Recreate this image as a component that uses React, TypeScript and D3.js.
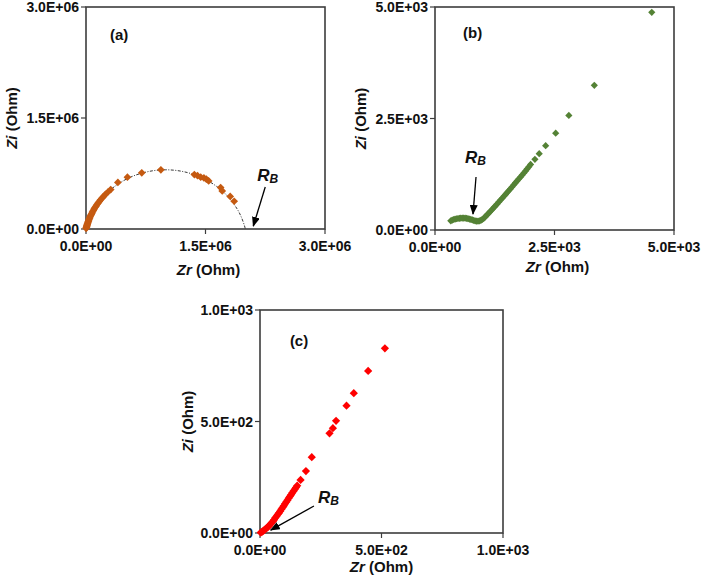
import React from "react";
import * as d3 from "d3";

// ---------- DATA ----------
// Panel (a): Nyquist plot, Ohm
const zrA = [
  0.002e6, 0.004e6, 0.006e6, 0.008e6, 0.010e6, 0.013e6, 0.016e6, 0.019e6, 0.022e6, 0.026e6,
  0.030e6, 0.035e6, 0.040e6, 0.046e6, 0.052e6, 0.059e6, 0.066e6, 0.074e6, 0.083e6, 0.092e6,
  0.102e6, 0.113e6, 0.125e6, 0.138e6, 0.152e6, 0.167e6, 0.183e6, 0.200e6, 0.220e6, 0.245e6,
  0.275e6, 0.310e6, 0.40e6, 0.52e6, 0.70e6, 0.94e6, 1.36e6, 1.40e6, 1.44e6, 1.48e6,
  1.51e6, 1.54e6, 1.69e6, 1.71e6, 1.81e6, 1.86e6,
];
const ziA = [
  0.009e6, 0.017e6, 0.025e6, 0.033e6, 0.041e6, 0.051e6, 0.062e6, 0.072e6, 0.082e6, 0.094e6,
  0.106e6, 0.120e6, 0.134e6, 0.150e6, 0.165e6, 0.181e6, 0.197e6, 0.214e6, 0.233e6, 0.251e6,
  0.269e6, 0.289e6, 0.309e6, 0.330e6, 0.351e6, 0.372e6, 0.394e6, 0.416e6, 0.440e6, 0.468e6,
  0.500e6, 0.533e6, 0.63e6, 0.70e6, 0.76e6, 0.80e6, 0.735e6, 0.72e6, 0.70e6, 0.69e6,
  0.675e6, 0.65e6, 0.56e6, 0.515e6, 0.44e6, 0.375e6,
];
// dotted semicircle fit
const fitZrA = [0, 0.01e6, 0.05e6, 0.1e6, 0.2e6, 0.3e6, 0.45e6, 0.6e6, 0.8e6, 1.0e6, 1.2e6, 1.4e6, 1.55e6, 1.7e6, 1.8e6, 1.9e6, 1.95e6, 1.99e6, 2.0e6];
const fitZiA = [0, 0.041e6, 0.16e6, 0.266e6, 0.416e6, 0.524e6, 0.64e6, 0.719e6, 0.78e6, 0.80e6, 0.78e6, 0.719e6, 0.64e6, 0.524e6, 0.416e6, 0.266e6, 0.16e6, 0.041e6, 0];

// Panel (b)
const zrB = [
  330, 360, 390, 420, 450, 480, 510, 540, 570, 600, 630, 660, 690, 720, 750, 780, 810, 840, 870, 900,
  930, 960, 990, 1020, 1050, 1080, 1110, 1140, 1170, 1200, 1235, 1270, 1300, 1335, 1370, 1405, 1440,
  1475, 1510, 1545, 1580, 1615, 1650, 1685, 1720, 1755, 1790, 1825, 1860, 1895, 1930, 1965, 2000,
  2090, 2180, 2315, 2525, 2800, 3333, 4535,
];
const ziB = [
  205, 222, 235, 245, 252, 258, 262, 266, 268, 268, 266, 262, 255, 246, 236, 225, 214, 204, 198, 198,
  205, 218, 236, 262, 295, 328, 362, 397, 432, 468, 508, 548, 585, 628, 670, 712, 755,
  798, 840, 883, 925, 970, 1015, 1060, 1103, 1147, 1190, 1235, 1280, 1325, 1372, 1418, 1470,
  1585, 1712, 1890, 2170, 2568, 3243, 4880,
];

// Panel (c)
const zrC = [
  3, 8, 13, 18, 23, 28, 33, 38, 43, 48, 53, 58, 63, 68, 73, 78, 83, 88, 93, 98, 103, 108, 113, 118,
  123, 128, 133, 138, 143, 148, 153, 167, 189, 213, 286, 300, 313, 356, 386, 445, 514,
];
const ziC = [
  2, 5, 9, 13, 18, 23, 28, 33, 39, 46, 52, 59, 68, 75, 83, 90, 98, 106, 114, 122, 131, 139, 147, 156,
  164, 172, 180, 188, 196, 204, 212, 238, 278, 340, 447, 470, 503, 571, 627, 727, 828,
];

const ticksA = [0, 1.5e6, 3.0e6];
const tickLabelsA = ["0.0E+00", "1.5E+06", "3.0E+06"];
const ticksB = [0, 2.5e3, 5.0e3];
const tickLabelsB = ["0.0E+00", "2.5E+03", "5.0E+03"];
const ticksC = [0, 5.0e2, 1.0e3];
const tickLabelsC = ["0.0E+00", "5.0E+02", "1.0E+03"];

// annotations in data units: [fromX, fromY, toX, toY], label position
const arrowA = [2.25e6, 0.567e6, 2.1e6, 0.04e6];
const rbA = [2.15e6, 0.65e6];
const arrowB = [858, 1188, 795, 359];
const rbB = [628, 1502];
const arrowC = [222, 121, 44, 13];
const rbC = [239, 135];
const panelLabelPos = { a: [0.3e6, 2.56e6], b: [586, 4305], c: [123, 839] };

const FONT = "Arial, 'Liberation Sans', Helvetica, sans-serif";
const AXIS = "#3d3d3d";

type PanelProps = {
  box: { x0: number; x1: number; y0: number; y1: number };
  max: number;
  ticks: number[];
  tickLabels: string[];
  zr: number[];
  zi: number[];
  color: string;
  markerArea: number;
  arrow: number[];
  rb: number[];
  label: string;
  labelPos: number[];
  xTitleY: number;
  xTitleDx: number;
  yTitleX: number;
  fit?: { zr: number[]; zi: number[] };
};

function Panel(p: PanelProps) {
  const x = d3.scaleLinear().domain([0, p.max]).range([p.box.x0, p.box.x1]);
  const y = d3.scaleLinear().domain([0, p.max]).range([p.box.y1, p.box.y0]);
  const sym = d3.symbol().type(d3.symbolSquare).size(p.markerArea)() as string;
  const pts = p.zr.map((v, i) => [v, p.zi[i]] as [number, number]);
  let fitPath: string | null = null;
  if (p.fit) {
    const fp = p.fit.zr.map((v, i) => [v, p.fit!.zi[i]] as [number, number]);
    fitPath = d3
      .line<[number, number]>()
      .x((d) => x(d[0]))
      .y((d) => y(d[1]))
      .curve(d3.curveCatmullRom.alpha(0.5))(fp);
  }
  const cx = (p.box.x0 + p.box.x1) / 2;
  const cy = (p.box.y0 + p.box.y1) / 2;
  return (
    <g>
      <rect
        x={p.box.x0}
        y={p.box.y0}
        width={p.box.x1 - p.box.x0}
        height={p.box.y1 - p.box.y0}
        fill="#fff"
        stroke={AXIS}
        strokeWidth={1.6}
      />
      {p.ticks.map((t, i) => (
        <g key={"xt" + i}>
          <line x1={x(t)} x2={x(t)} y1={p.box.y1} y2={p.box.y1 + 5} stroke={AXIS} strokeWidth={1.2} />
          <text x={x(t)} y={p.box.y1 + 22} textAnchor="middle" fontSize={14} fontWeight="bold" fontFamily={FONT} fill="#111">
            {p.tickLabels[i]}
          </text>
        </g>
      ))}
      {p.ticks.map((t, i) => (
        <g key={"yt" + i}>
          <line x1={p.box.x0 - 5} x2={p.box.x0} y1={y(t)} y2={y(t)} stroke={AXIS} strokeWidth={1.2} />
          <text x={p.box.x0 - 7} y={y(t) + 5} textAnchor="end" fontSize={14} fontWeight="bold" fontFamily={FONT} fill="#111">
            {p.tickLabels[i]}
          </text>
        </g>
      ))}
      {fitPath && (
        <path d={fitPath} fill="none" stroke="#222" strokeWidth={0.9} strokeDasharray="3,1.5,1,1.5" />
      )}
      {pts.map((d, i) => (
        <path
          key={"pt" + i}
          d={sym}
          transform={`translate(${x(d[0])},${y(d[1])}) rotate(45)`}
          fill={p.color}
        />
      ))}
      <text x={x(p.labelPos[0])} y={y(p.labelPos[1])} fontSize={15} fontWeight="bold" fontFamily={FONT} fill="#111">
        {p.label}
      </text>
      <text x={x(p.rb[0])} y={y(p.rb[1])} fontSize={17} fontWeight="bold" fontStyle="italic" fontFamily={FONT} fill="#111">
        R
        <tspan fontSize={12} dy={2}>
          B
        </tspan>
      </text>
      <line
        x1={x(p.arrow[0])}
        y1={y(p.arrow[1])}
        x2={x(p.arrow[2])}
        y2={y(p.arrow[3])}
        stroke="#000"
        strokeWidth={1.3}
        markerEnd="url(#arrowhead)"
      />
      <text x={cx + p.xTitleDx} y={p.xTitleY} textAnchor="middle" fontSize={15} fontWeight="bold" fontFamily={FONT} fill="#111">
        <tspan fontStyle="italic">Zr</tspan> (Ohm)
      </text>
      <text
        transform={`translate(${p.yTitleX},${cy}) rotate(-90)`}
        textAnchor="middle"
        dominantBaseline="central"
        fontSize={15}
        fontWeight="bold"
        fontFamily={FONT}
        fill="#111"
      >
        <tspan fontStyle="italic">Zi</tspan> (Ohm)
      </text>
    </g>
  );
}

export default function App() {
  return (
    <svg
      width={705}
      height={585}
      style={{ position: "absolute", left: 0, top: 0, display: "block", background: "#fff" }}
    >
      <defs>
        <marker id="arrowhead" markerWidth="10" markerHeight="8" refX="9" refY="4" orient="auto" markerUnits="userSpaceOnUse">
          <path d="M0,0 L10,4 L0,8 Z" fill="#000" />
        </marker>
      </defs>
      <rect width={705} height={585} fill="#fff" />
      <Panel
        box={{ x0: 86, x1: 325, y0: 7, y1: 229 }}
        max={3e6}
        ticks={ticksA}
        tickLabels={tickLabelsA}
        zr={zrA}
        zi={ziA}
        color="#c55a11"
        markerArea={30}
        arrow={arrowA}
        rb={rbA}
        label="(a)"
        labelPos={panelLabelPos.a}
        xTitleY={275}
        xTitleDx={3}
        yTitleX={11}
        fit={{ zr: fitZrA, zi: fitZiA }}
      />
      <Panel
        box={{ x0: 435, x1: 674, y0: 7, y1: 230 }}
        max={5e3}
        ticks={ticksB}
        tickLabels={tickLabelsB}
        zr={zrB}
        zi={ziB}
        color="#548235"
        markerArea={26}
        arrow={arrowB}
        rb={rbB}
        label="(b)"
        labelPos={panelLabelPos.b}
        xTitleY={272}
        xTitleDx={3}
        yTitleX={360}
      />
      <Panel
        box={{ x0: 260, x1: 503, y0: 310, y1: 533 }}
        max={1e3}
        ticks={ticksC}
        tickLabels={tickLabelsC}
        zr={zrC}
        zi={ziC}
        color="#ff0000"
        markerArea={34}
        arrow={arrowC}
        rb={rbC}
        label="(c)"
        labelPos={panelLabelPos.c}
        xTitleY={572}
        xTitleDx={0}
        yTitleX={187}
      />
    </svg>
  );
}
